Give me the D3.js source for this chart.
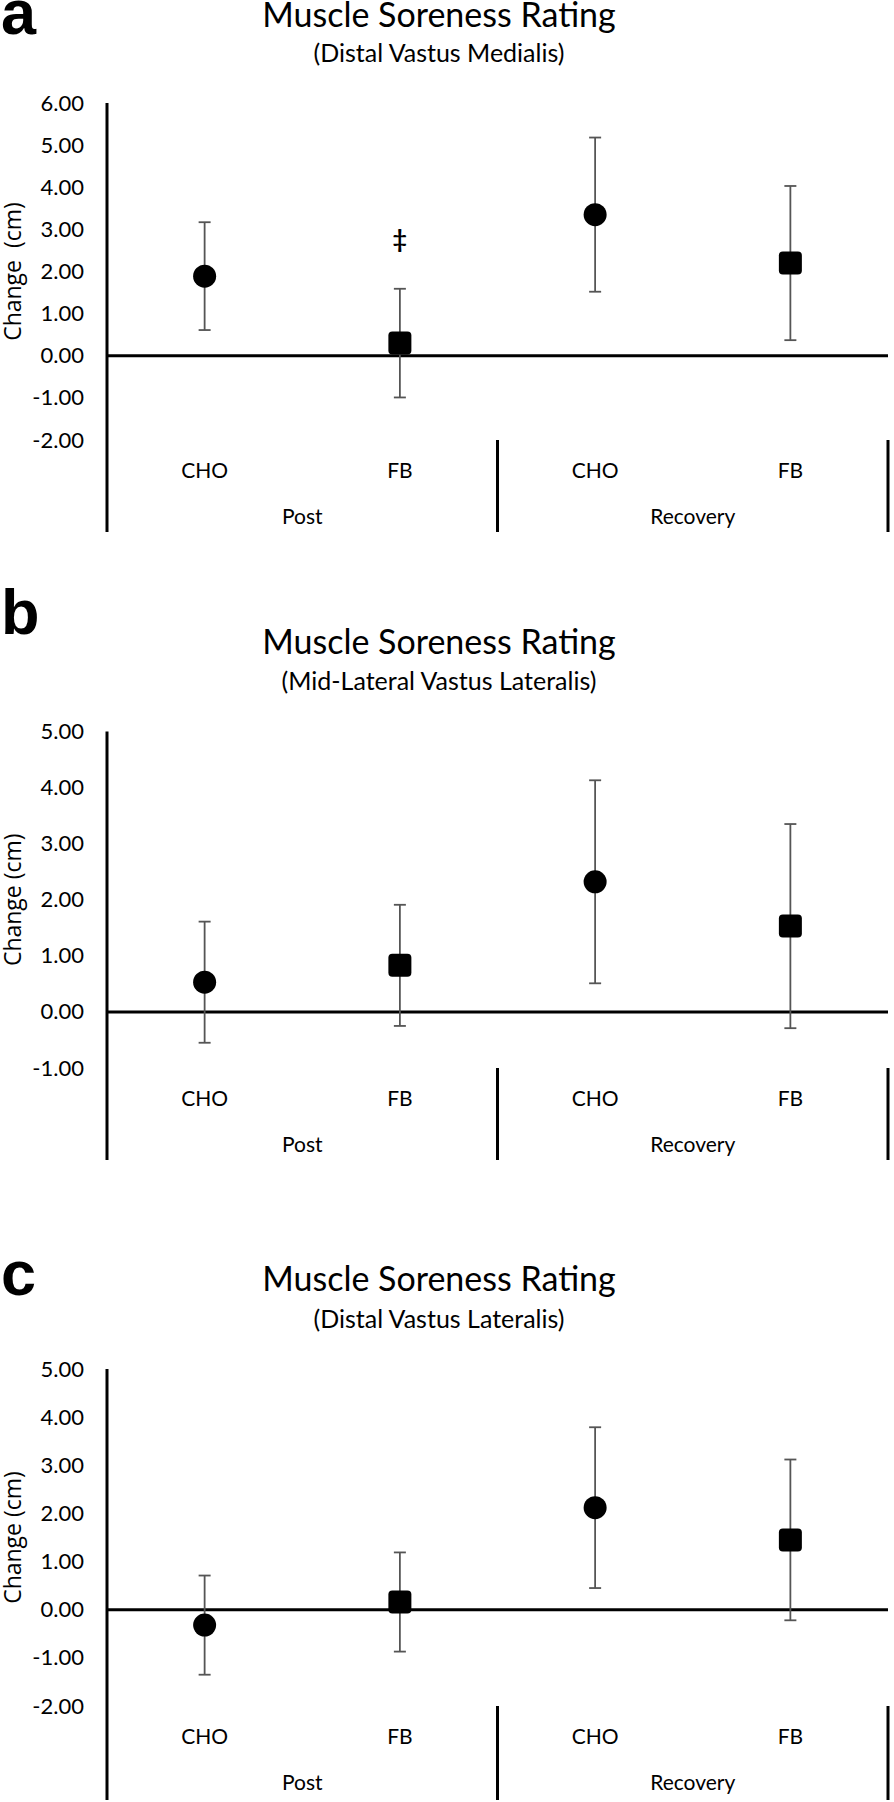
<!DOCTYPE html>
<html>
<head>
<meta charset="utf-8">
<script src="https://cdnjs.cloudflare.com/ajax/libs/d3/7.8.5/d3.min.js"></script>
<style>
  body { margin: 0; background: #fff; }
  svg { display: block; }
</style>
</head>
<body>
<svg id="chart" width="894" height="1802"></svg>
<script>
// ---- data ----
var categories = ["CHO", "FB", "CHO", "FB"];
var groups = ["Post", "Recovery"];
var markers = ["circle", "square", "circle", "square"];

var titles = ["Muscle Soreness Rating", "Muscle Soreness Rating", "Muscle Soreness Rating"];
var subtitles = ["(Distal Vastus Medialis)", "(Mid-Lateral Vastus Lateralis)", "(Distal Vastus Lateralis)"];
var letters = ["a", "b", "c"];
var yLabels = ["Change  (cm)", "Change (cm)", "Change (cm)"];

var meansA = [1.89, 0.30, 3.35, 2.20];
var sdA    = [1.28, 1.29, 1.83, 1.83];
var meansB = [0.53, 0.83, 2.32, 1.53];
var sdB    = [1.08, 1.08, 1.81, 1.82];
var meansC = [-0.32, 0.16, 2.12, 1.45];
var sdC    = [1.03, 1.03, 1.67, 1.67];

var ticksA = [-2, -1, 0, 1, 2, 3, 4, 5, 6];
var ticksB = [-1, 0, 1, 2, 3, 4, 5];
var ticksC = [-2, -1, 0, 1, 2, 3, 4, 5];

// significance marker (panel a, FB Post)
var dagger = {panel: 0, index: 1, value: 2.77, text: "\u2021"};

// ---- layout ----
var svg = d3.select("#chart");
var left = 107, right = 888;

var panels = [
  {means: meansA, sds: sdA, ticks: ticksA, yTop: 103,   yBot: 440,  bottom: 532,  titleY: 27,   subY: 62,   letterY: 34},
  {means: meansB, sds: sdB, ticks: ticksB, yTop: 731.5, yBot: 1068, bottom: 1160, titleY: 654,  subY: 690,  letterY: 634},
  {means: meansC, sds: sdC, ticks: ticksC, yTop: 1369,  yBot: 1706, bottom: 1800, titleY: 1291, subY: 1328, letterY: 1295}
];

var calibri = "Lato, 'Noto Sans', sans-serif";

var x = d3.scaleBand().domain(d3.range(categories.length)).range([left, right]).padding(0);
var xg = d3.scaleBand().domain(groups).range([left, right]).padding(0);

panels.forEach(function(p, pi) {
  var y = d3.scaleLinear()
      .domain([d3.min(p.ticks), d3.max(p.ticks)])
      .range([p.yBot, p.yTop]);

  var g = svg.append("g");

  // panel letter
  g.append("text")
    .attr("x", 1)
    .attr("y", p.letterY)
    .style("font-family", "'Liberation Sans', Arial, sans-serif")
    .style("font-weight", "bold")
    .style("font-size", "63px")
    .text(letters[pi]);

  // title + subtitle
  g.append("text")
    .attr("x", 439)
    .attr("y", p.titleY)
    .attr("text-anchor", "middle")
    .style("font-family", calibri)
    .style("font-size", "34px")
    .text(titles[pi]);

  g.append("text")
    .attr("x", 439)
    .attr("y", p.subY)
    .attr("text-anchor", "middle")
    .style("font-family", calibri)
    .style("font-size", "25px")
    .text(subtitles[pi]);

  // y axis (labels only, the line is drawn separately so it runs through the category area)
  var ax = g.append("g")
    .attr("transform", "translate(" + left + ",0)")
    .call(d3.axisLeft(y).tickValues(p.ticks).tickSize(0).tickPadding(23)
      .tickFormat(function(d) { return d.toFixed(2); }));
  ax.select(".domain").remove();
  ax.selectAll("text")
    .style("font-family", calibri)
    .style("font-size", "22px")
    .attr("fill", "#000");

  g.append("line")
    .attr("x1", left).attr("x2", left)
    .attr("y1", p.yTop).attr("y2", p.bottom)
    .attr("stroke", "#000").attr("stroke-width", 3);

  // y label
  g.append("text")
    .attr("transform", "translate(21," + ((p.yTop + p.yBot) / 2) + ") rotate(-90)")
    .attr("text-anchor", "middle")
    .style("font-family", "'Open Sans', sans-serif")
    .style("font-size", "23px")
    .style("white-space", "pre")
    .text(yLabels[pi]);

  // zero line
  g.append("line")
    .attr("x1", left).attr("x2", right)
    .attr("y1", y(0)).attr("y2", y(0))
    .attr("stroke", "#000").attr("stroke-width", 3);

  // group dividers
  g.selectAll(".divider")
    .data(groups)
    .enter().append("line")
    .attr("class", "divider")
    .attr("x1", function(d) { return xg(d) + xg.bandwidth(); })
    .attr("x2", function(d) { return xg(d) + xg.bandwidth(); })
    .attr("y1", p.yBot).attr("y2", p.bottom)
    .attr("stroke", "#000").attr("stroke-width", 3);

  // category labels
  g.selectAll(".cat")
    .data(categories)
    .enter().append("text")
    .attr("class", "cat")
    .attr("x", function(d, i) { return x(i) + x.bandwidth() / 2; })
    .attr("y", p.yBot + 38)
    .attr("text-anchor", "middle")
    .style("font-family", calibri)
    .style("font-size", "21px")
    .text(function(d) { return d; });

  g.selectAll(".grp")
    .data(groups)
    .enter().append("text")
    .attr("class", "grp")
    .attr("x", function(d) { return xg(d) + xg.bandwidth() / 2; })
    .attr("y", p.yBot + 84)
    .attr("text-anchor", "middle")
    .style("font-family", calibri)
    .style("font-size", "21px")
    .text(function(d) { return d; });

  // error bars
  var pts = p.means.map(function(m, i) {
    return {i: i, mean: m, sd: p.sds[i], marker: markers[i]};
  });
  var cx = function(d) { return x(d.i) + x.bandwidth() / 2; };

  var eb = g.selectAll(".eb").data(pts).enter().append("g").attr("class", "eb")
    .attr("stroke", "#555").attr("stroke-width", 1.8);
  eb.append("line")
    .attr("x1", cx).attr("x2", cx)
    .attr("y1", function(d) { return y(d.mean + d.sd); })
    .attr("y2", function(d) { return y(d.mean - d.sd); });
  [1, -1].forEach(function(s) {
    eb.append("line")
      .attr("x1", function(d) { return cx(d) - 6; })
      .attr("x2", function(d) { return cx(d) + 6; })
      .attr("y1", function(d) { return y(d.mean + s * d.sd); })
      .attr("y2", function(d) { return y(d.mean + s * d.sd); });
  });

  // markers
  g.selectAll(".dot").data(pts.filter(function(d) { return d.marker === "circle"; }))
    .enter().append("circle")
    .attr("class", "dot")
    .attr("cx", cx)
    .attr("cy", function(d) { return y(d.mean); })
    .attr("r", 11.5)
    .attr("fill", "#000");

  g.selectAll(".sq").data(pts.filter(function(d) { return d.marker === "square"; }))
    .enter().append("rect")
    .attr("class", "sq")
    .attr("x", function(d) { return cx(d) - 11.5; })
    .attr("y", function(d) { return y(d.mean) - 11.5; })
    .attr("width", 23).attr("height", 23)
    .attr("rx", 4)
    .attr("fill", "#000");

  if (dagger.panel === pi) {
    g.append("text")
      .attr("x", x(dagger.index) + x.bandwidth() / 2)
      .attr("y", y(dagger.value))
      .attr("dy", "0.35em")
      .attr("text-anchor", "middle")
      .style("font-family", calibri)
      .style("font-size", "25px")
      .style("font-weight", "bold")
      .text(dagger.text);
  }
});
</script>
</body>
</html>
